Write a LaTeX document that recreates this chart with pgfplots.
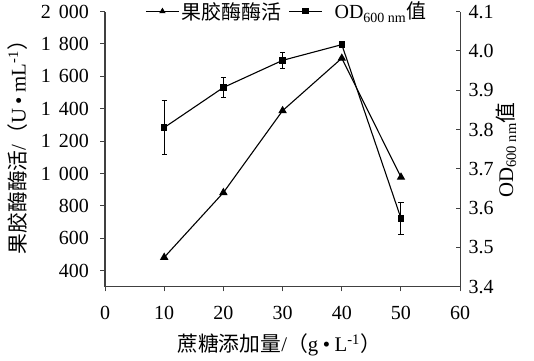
\documentclass[border=0pt]{standalone}
\usepackage{fontspec}
\setmainfont{Liberation Serif}
\newfontfamily\cjk{Noto Sans CJK SC}
\usepackage{pgfplots}
\pgfplotsset{compat=1.18}
\definecolor{axgray}{HTML}{404040}
\newcommand{\fs}{\fontsize{20bp}{22bp}\selectfont}
\newcommand{\fl}{\fontsize{20.8bp}{22bp}\selectfont}
\begin{document}
\begin{tikzpicture}
\useasboundingbox (0,0) rectangle (534bp,361bp);
\pgfplotsset{
  every axis/.append style={
    scale only axis, width=355.2bp, height=275.2bp,
    at={(105bp,74.2bp)}, anchor=south west,
    xmin=0, xmax=60,
    axis line style={-, axgray, line width=1.2bp},
    every tick/.style={axgray, line width=1bp},
    major tick length=4.5bp,
    tick label style={font=\fs},
    label style={font=\fl},
    /pgf/number format/assume math mode=true,
    /pgf/number format/1000 sep={\hspace{0.4em}},
  },
}
\begin{axis}[
  axis x line*=bottom, axis y line*=left,
  tick align=outside,
  ymin=300, ymax=2000,
  ytick={400,600,...,2000},
  xtick={0,10,...,60},
  yticklabel style={xshift=-8bp},
  xticklabel style={yshift=-11bp},
  xlabel={{\cjk 蔗糖添加量}/{\cjk （}g\hspace{0.22em}•\hspace{0.22em}L\textsuperscript{-1}{\cjk ）}},
  xlabel style={at={(axis description cs:0.49,-0.2115)}, anchor=center},
  ylabel={{\cjk 果胶酶酶活}/{\cjk （}U\hspace{0.22em}•\hspace{0.22em}mL\textsuperscript{-1}{\cjk ）}},
  ylabel style={at={(axis description cs:-0.246,0.526)}, anchor=center},
]
\addplot[black, line width=1.1bp, mark=triangle*, mark size=3.8bp, mark options={solid}]
  coordinates {(10,482) (20,882) (30,1388) (40,1712) (50,977)};
\end{axis}
\begin{axis}[
  axis x line=none, axis y line*=right,
  tick align=inside,
  ymin=3.4, ymax=4.1,
  ytick={3.4,3.5,...,4.1},
  yticklabel style={/pgf/number format/fixed, /pgf/number format/fixed zerofill, /pgf/number format/precision=1, xshift=5bp},
  ylabel={OD\textsubscript{600 nm}{\cjk 值}},
  ylabel style={at={(axis description cs:1.129,0.497)}, anchor=center},
  legend columns=2,
  legend style={draw=none, fill=none, font=\fs, at={(axis description cs:0.512,1.001)}, anchor=center,
    /tikz/every even column/.append style={column sep=5bp},
    inner sep=0pt, nodes={inner sep=2bp}},
  legend image code/.code={\draw[mark repeat=2, mark phase=2, #1] plot coordinates {(0bp,0bp) (16.5bp,0bp) (33bp,0bp)};},
]
\addlegendimage{black, line width=1.1bp, mark=triangle*, mark size=2.6bp}
\addlegendentry{\cjk 果胶酶酶活}
\addplot[black, line width=1.1bp, mark=square*, mark size=2.6bp,
  error bars/.cd, y dir=both, y explicit,
  error bar style={line width=1bp},
  error mark options={rotate=90, mark size=2.6bp, line width=1bp}]
  coordinates {(10,3.805) +- (0,0.068) (20,3.907) +- (0,0.025) (30,3.976) +- (0,0.02) (40,4.016) +- (0,0.002) (50,3.574) +- (0,0.04)};
\addlegendentry{\hspace{10bp}OD\textsubscript{600 nm}{\cjk 值}}
\end{axis}
\end{tikzpicture}
\end{document}
